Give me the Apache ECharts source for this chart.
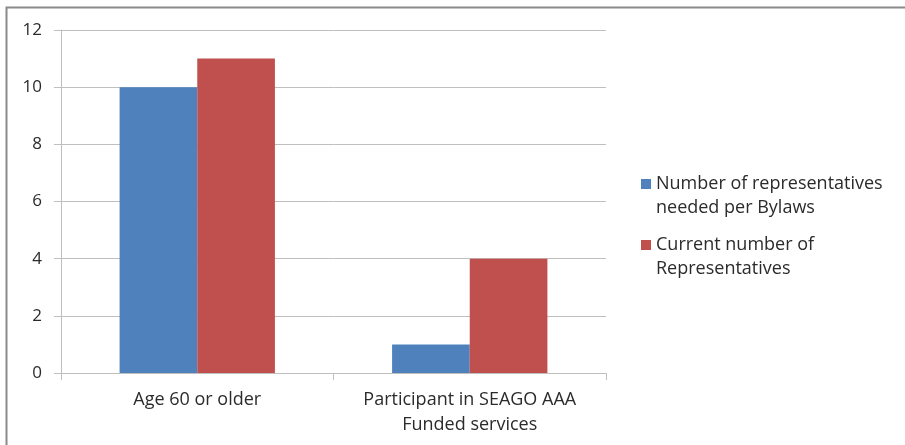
<!DOCTYPE html>
<html>
<head>
<meta charset="utf-8">
<script src="https://cdn.jsdelivr.net/npm/echarts@6/dist/echarts.min.js"></script>
<style>
html, body { margin: 0; padding: 0; background: #fff; }
#chart { width: 905px; height: 445px; }
</style>
</head>
<body>
<div id="chart"></div>
<script>
var categories = ['Age 60 or older', 'Participant in SEAGO AAA\nFunded services'];
var seriesNames = ['Number of representatives\nneeded per Bylaws', 'Current number of\nRepresentatives'];
var neededValues = [10, 1];
var currentValues = [11, 4];
var yTicks = { min: 0, max: 12, step: 2 };

var chart = echarts.init(document.getElementById('chart'));
var font = '"Open Sans", Lato, sans-serif';
var textColor = '#2b2b2b';

var option = {
    animation: false,
    textStyle: { fontFamily: font },
    graphic: [{
        type: 'polyline',
        shape: { points: [[6.5, 445], [6.5, 7.5], [905, 7.5]] },
        style: { stroke: '#8a8a8a', lineWidth: 2, fill: null }
    }],
    grid: { left: 61, right: 299, top: 30, bottom: 72 },
    legend: {
        orient: 'vertical',
        left: 641,
        top: 148,
        padding: 0,
        itemWidth: 10,
        itemHeight: 10,
        itemGap: -11,
        icon: 'rect',
        data: seriesNames,
        // blank first line so the square sits beside the first text line
        formatter: function (name) { return ' \n' + name; },
        textStyle: {
            fontFamily: font,
            fontSize: 18,
            color: textColor,
            lineHeight: 24
        }
    },
    xAxis: {
        type: 'category',
        data: categories,
        axisLine: { lineStyle: { color: '#bfbfbf', width: 1 } },
        axisTick: { show: true, length: 7, lineStyle: { color: '#bfbfbf' } },
        axisLabel: {
            color: textColor,
            fontSize: 18,
            lineHeight: 25,
            margin: 14,
            interval: 0
        }
    },
    yAxis: {
        type: 'value',
        min: yTicks.min,
        max: yTicks.max,
        interval: yTicks.step,
        axisLine: { show: true, lineStyle: { color: '#bfbfbf', width: 1 } },
        axisTick: { show: true, length: 7, lineStyle: { color: '#bfbfbf' } },
        splitLine: { lineStyle: { color: '#bfbfbf', width: 1 } },
        axisLabel: { color: textColor, fontSize: 17, margin: 19 }
    },
    series: [
        {
            name: seriesNames[0],
            type: 'bar',
            data: neededValues,
            barGap: 0,
            barCategoryGap: '43%',
            itemStyle: { color: '#4f81bd' }
        },
        {
            name: seriesNames[1],
            type: 'bar',
            data: currentValues,
            barGap: 0,
            barCategoryGap: '43%',
            itemStyle: { color: '#c0504d' }
        }
    ]
};
chart.setOption(option);
</script>
</body>
</html>
